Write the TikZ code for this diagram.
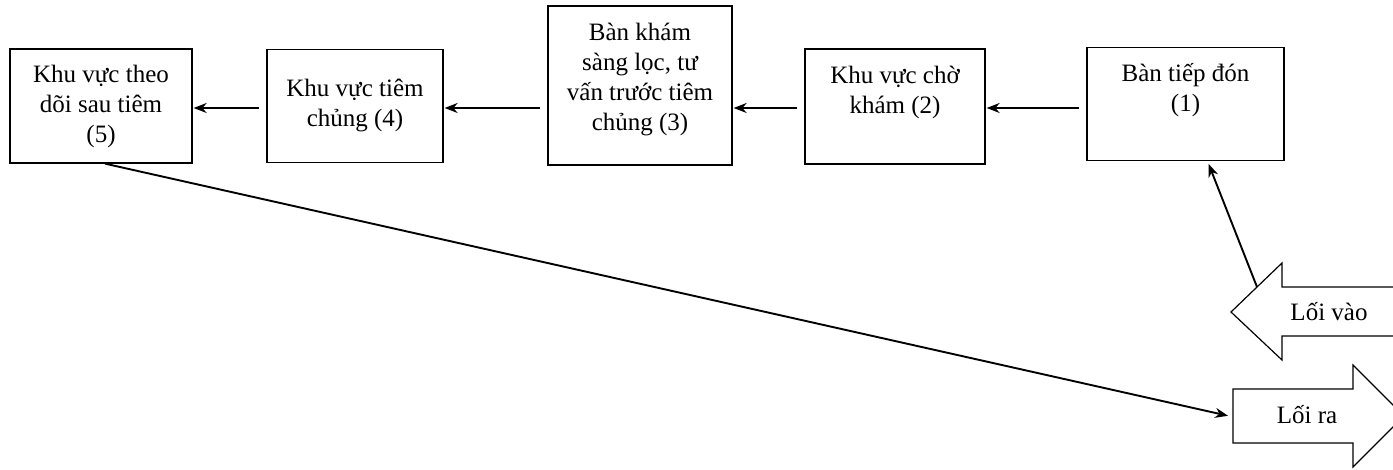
\documentclass[tikz,border=0pt]{standalone}
\usepackage{fontspec}
\setmainfont{Liberation Serif}
\usetikzlibrary{arrows.meta}
\usetikzlibrary{positioning}

\begin{document}
\begin{tikzpicture}[x=1pt,y=-1pt]
\tikzset{
    areaBox/.style={
                   draw,
                   line width=1.3pt,
                   align=center,
                   inner sep=0pt,
                   font=\fontsize{25}{30}\selectfont
    },
    flowArrow/.style={
                   line width=1.9pt,
                   -{Stealth[length=13pt,width=10pt]},
                   shorten <=7pt,
                   shorten >=1pt
    },
    blockArrow/.style={
                   draw,
                   line width=1.2pt,
                   line join=miter
    }
}
    \clip (0,0) rectangle (1393,470);

    \node (B1)[areaBox, minimum width=197pt, minimum height=113pt, text depth=34pt] at (1185.5,104) {Bàn tiếp đón\\(1)};
    \node (B2)[areaBox, minimum width=180pt, minimum height=115pt, text depth=34pt] at (895,106.5) {Khu vực chờ\\khám (2)};
    \node (B3)[areaBox, minimum width=184pt, minimum height=159pt, text depth=17pt] at (640,85.5) {Bàn khám\\sàng lọc, tư\\vấn trước tiêm\\chủng (3)};
    \node (B4)[areaBox, minimum width=176pt, minimum height=113pt] at (355,106) {Khu vực tiêm\\chủng (4)};
    \node (B5)[areaBox, minimum width=182pt, minimum height=114pt] at (101,106) {Khu vực theo\\dõi sau tiêm\\(5)};

    % entry and exit
    \draw[blockArrow] (1420,287) -- (1282,287) -- (1282,263) -- (1231,312) -- (1282,360) -- (1282,336) -- (1420,336) -- cycle;
    \node (entry)[font=\fontsize{25}{30}\selectfont] at (1329,312) {Lối vào};
    \coordinate (entryTop) at (1257,287);

    \draw[blockArrow] (1233,389) -- (1353,389) -- (1353,365) -- (1404,416) -- (1353,467) -- (1353,443) -- (1233,443) -- cycle;
    \node (exit)[font=\fontsize{25}{30}\selectfont] at (1307,415) {Lối ra};
    \coordinate (exitTail) at (1229,416);

    \draw[flowArrow] (B1.west |- 0,108) -- (B2.east |- 0,108);
    \draw[flowArrow] (B2.west |- 0,108) -- (B3.east |- 0,108);
    \draw[flowArrow] (B3.west |- 0,108) -- (B4.east |- 0,108);
    \draw[flowArrow] (B4.west |- 0,108) -- (B5.east |- 0,108);
    \draw[flowArrow, shorten <=0pt, shorten >=3pt] (entryTop) -- ([xshift=22pt]B1.south);
    \draw[flowArrow, shorten <=0pt] ([xshift=4pt]B5.south) -- (exitTail);

\end{tikzpicture}
\end{document}
